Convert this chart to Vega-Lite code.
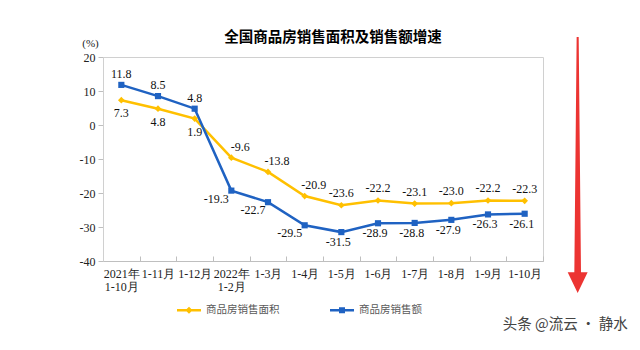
{
  "$schema": "https://vega.github.io/schema/vega-lite/v6.json",
  "width": 440,
  "height": 204,
  "autosize": {"type": "none"},
  "padding": {"left": 103, "top": 57, "right": 97, "bottom": 89},
  "background": "white",
  "title": {"text": "全国商品房销售面积及销售额增速", "font": "Noto Sans CJK SC", "fontSize": 14.5, "fontWeight": "bold", "color": "#000000", "offset": -8, "dx": 10, "anchor": "middle"},
  "config": {
    "view": {"stroke": "#D0D0D0"},
    "font": "Liberation Serif",
    "locale": {"number": {"decimal": ".", "thousands": ",", "grouping": [3], "currency": ["$", ""], "minus": "-"}}
  },
  "data": {"values": [
      {"cat": "2021年 1-10月", "series": "商品房销售面积", "value": 7.3},
      {"cat": "1-11月", "series": "商品房销售面积", "value": 4.8},
      {"cat": "1-12月", "series": "商品房销售面积", "value": 1.9},
      {"cat": "2022年 1-2月", "series": "商品房销售面积", "value": -9.6},
      {"cat": "1-3月", "series": "商品房销售面积", "value": -13.8},
      {"cat": "1-4月", "series": "商品房销售面积", "value": -20.9},
      {"cat": "1-5月", "series": "商品房销售面积", "value": -23.6},
      {"cat": "1-6月", "series": "商品房销售面积", "value": -22.2},
      {"cat": "1-7月", "series": "商品房销售面积", "value": -23.1},
      {"cat": "1-8月", "series": "商品房销售面积", "value": -23.0},
      {"cat": "1-9月", "series": "商品房销售面积", "value": -22.2},
      {"cat": "1-10月", "series": "商品房销售面积", "value": -22.3},
      {"cat": "2021年 1-10月", "series": "商品房销售额", "value": 11.8},
      {"cat": "1-11月", "series": "商品房销售额", "value": 8.5},
      {"cat": "1-12月", "series": "商品房销售额", "value": 4.8},
      {"cat": "2022年 1-2月", "series": "商品房销售额", "value": -19.3},
      {"cat": "1-3月", "series": "商品房销售额", "value": -22.7},
      {"cat": "1-4月", "series": "商品房销售额", "value": -29.5},
      {"cat": "1-5月", "series": "商品房销售额", "value": -31.5},
      {"cat": "1-6月", "series": "商品房销售额", "value": -28.9},
      {"cat": "1-7月", "series": "商品房销售额", "value": -28.8},
      {"cat": "1-8月", "series": "商品房销售额", "value": -27.9},
      {"cat": "1-9月", "series": "商品房销售额", "value": -26.3},
      {"cat": "1-10月", "series": "商品房销售额", "value": -26.1}
  ]},
  "encoding": {
    "x": {
      "field": "cat", "type": "ordinal", "sort": null, "bandPosition": 0.5,
      "scale": {"type": "band", "paddingInner": 0, "paddingOuter": 0},
      "axis": {"title": null, "labelAngle": 0, "tickBand": "extent", "tickSize": -5, "labelPadding": 12, "labelExpr": "split(datum.label, ' ')", "labelFontSize": 12, "labelColor": "#222222", "labelLineHeight": 13, "domainColor": "#BFBFBF", "tickColor": "#BFBFBF", "labelBaseline": "top"}
    },
    "y": {
      "field": "value", "type": "quantitative",
      "scale": {"domain": [-40, 20], "nice": false, "zero": false},
      "axis": {"title": "(%)", "titleAngle": 0, "titleX": -13, "titleY": -14, "titleAlign": "center", "titleBaseline": "middle", "titleFont": "Liberation Serif", "titleFontWeight": "normal", "titleFontSize": 11, "titleColor": "#222222", "values": [-40, -30, -20, -10, 0, 10, 20], "grid": false, "domainColor": "#D0D0D0", "tickColor": "#BFBFBF", "tickSize": 5, "labelPadding": 3, "labelFontSize": 12, "labelColor": "#222222"}
    }
  },
  "layer": [
    {
      "mark": {"type": "line", "strokeWidth": 2.5},
      "encoding": {
        "color": {
          "field": "series", "type": "nominal",
          "scale": {"domain": ["商品房销售面积", "商品房销售额"], "range": ["#FFC000", "#1F62C2"]},
          "legend": {
            "orient": "none", "legendX": 74, "legendY": 241, "direction": "horizontal", "title": null,
            "symbolSize": 576, "symbolType": "M-1,-0.1L1,-0.1L1,0.1L-1,0.1Z",
            "labelFont": "Noto Sans CJK SC", "labelFontSize": 10.5, "labelColor": "#595959", "labelOffset": 5,
            "columnPadding": 50,
            "encode": {"symbols": {"update": {
              "shape": {"signal": "datum.value === '商品房销售面积' ? 'M-1,-0.1L1,-0.1L1,0.1L-1,0.1Z M0,-0.3L0.3,0L0,0.3L-0.3,0Z' : 'M-1,-0.1L1,-0.1L1,0.1L-1,0.1Z M-0.25,-0.25L0.25,-0.25L0.25,0.25L-0.25,0.25Z'"},
              "fill": {"scale": "color", "field": "value"},
              "fillOpacity": {"value": 1},
              "strokeWidth": {"value": 0}
            }}}
          }
        }
      }
    },
    {
      "transform": [{"filter": "datum.series === '商品房销售面积'"}],
      "mark": {"type": "point", "shape": "diamond", "filled": true, "opacity": 1, "size": 45, "color": "#FFC000"}
    },
    {
      "transform": [{"filter": "datum.series === '商品房销售额'"}],
      "mark": {"type": "point", "shape": "square", "filled": true, "opacity": 1, "size": 38, "color": "#1F62C2"}
    },
    {
      "transform": [{"filter": "datum.series === '商品房销售面积' && indexof(['2021年 1-10月','1-11月','1-12月'], datum.cat) >= 0"}],
      "mark": {"type": "text", "dy": 13, "fontSize": 12, "color": "#111111", "baseline": "middle"},
      "encoding": {"text": {"field": "value", "type": "quantitative", "format": ".1f"}}
    },
    {
      "transform": [{"filter": "datum.series === '商品房销售面积' && indexof(['2022年 1-2月','1-3月','1-4月'], datum.cat) >= 0"}],
      "mark": {"type": "text", "dy": -11, "dx": 9, "fontSize": 12, "color": "#111111", "baseline": "middle"},
      "encoding": {"text": {"field": "value", "type": "quantitative", "format": ".1f"}}
    },
    {
      "transform": [{"filter": "datum.series === '商品房销售面积' && indexof(['1-5月','1-6月','1-7月','1-8月','1-9月','1-10月'], datum.cat) >= 0"}],
      "mark": {"type": "text", "dy": -12, "fontSize": 12, "color": "#111111", "baseline": "middle"},
      "encoding": {"text": {"field": "value", "type": "quantitative", "format": ".1f"}}
    },
    {
      "transform": [{"filter": "datum.series === '商品房销售额' && indexof(['2021年 1-10月','1-11月','1-12月'], datum.cat) >= 0"}],
      "mark": {"type": "text", "dy": -11, "fontSize": 12, "color": "#111111", "baseline": "middle"},
      "encoding": {"text": {"field": "value", "type": "quantitative", "format": ".1f"}}
    },
    {
      "transform": [{"filter": "datum.series === '商品房销售额' && indexof(['2022年 1-2月','1-3月','1-4月'], datum.cat) >= 0"}],
      "mark": {"type": "text", "dy": 8, "dx": -15, "fontSize": 12, "color": "#111111", "baseline": "middle"},
      "encoding": {"text": {"field": "value", "type": "quantitative", "format": ".1f"}}
    },
    {
      "transform": [{"filter": "datum.series === '商品房销售额' && indexof(['1-5月','1-6月','1-7月','1-8月','1-9月','1-10月'], datum.cat) >= 0"}],
      "mark": {"type": "text", "dy": 10, "dx": -3, "fontSize": 12, "color": "#111111", "baseline": "middle"},
      "encoding": {"text": {"field": "value", "type": "quantitative", "format": ".1f"}}
    },
    {
      "transform": [{"filter": "datum.series === '商品房销售额' && datum.cat === '1-10月'"}],
      "mark": {"type": "text", "text": "头条 @流云 · 静水", "align": "right", "baseline": "middle", "dx": 103, "font": "Noto Sans CJK SC", "fontSize": 14.5, "color": "#444444", "clip": false},
      "encoding": {
        "y": {"datum": -58.8}
      }
    },
    {
      "transform": [{"filter": "datum.series === '商品房销售额' && datum.cat === '1-10月'"}],
      "mark": {"type": "point", "filled": true, "opacity": 1, "color": "#EC3432", "xOffset": 53, "size": 65536, "clip": false, "shape": "M-0.008,-1L0.008,-1L0.026,0.836L0.078,0.836L0,1L-0.078,0.836L-0.026,0.836Z"},
      "encoding": {
        "y": {"datum": -11.8}
      }
    }
  ]
}
